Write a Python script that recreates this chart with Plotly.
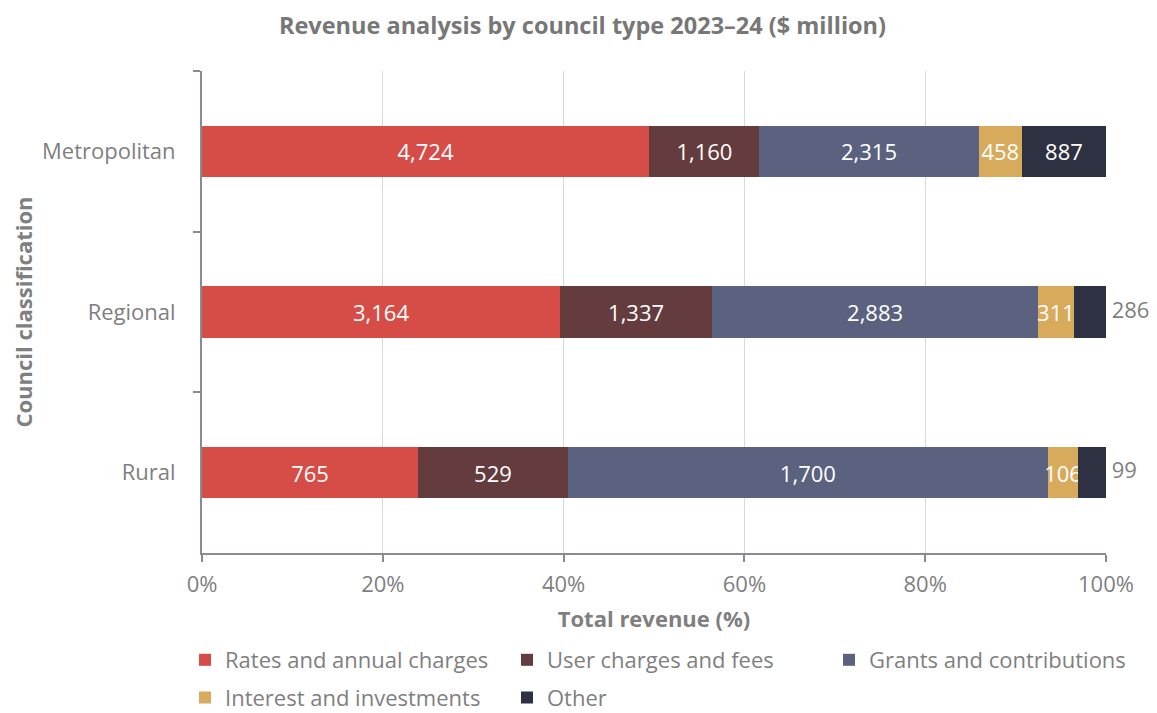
import plotly.graph_objects as go

councils = ["Metropolitan", "Regional", "Rural"]
series_names = ["Rates and annual charges", "User charges and fees", "Grants and contributions",
                "Interest and investments", "Other"]
rates = [4724, 3164, 765]
user_charges = [1160, 1337, 529]
grants = [2315, 2883, 1700]
interest = [458, 311, 106]
other = [887, 286, 99]
colors = ["#d64c47", "#643c3e", "#5b6280", "#d8aa5c", "#2d3142"]
x_ticks = [0, 20, 40, 60, 80, 100]
x_tick_labels = ["0%", "20%", "40%", "60%", "80%", "100%"]

FONT = "Open Sans"
GRAY = "#7f7f7f"
AXIS = "#8a8a94"

all_series = [rates, user_charges, grants, interest, other]
totals = [sum(s[i] for s in all_series) for i in range(len(councils))]
other_share = [o / t * 100 for o, t in zip(other, totals)]
small_other = [sh < 5 for sh in other_share]

fig = go.Figure()
for idx, (name, vals, col) in enumerate(zip(series_names, all_series, colors)):
    if name == "Other":
        txt = ["" if small else f"{v:,}" for v, small in zip(vals, small_other)]
    else:
        txt = [f"{v:,}" for v in vals]
    fig.add_trace(go.Bar(
        y=councils, x=vals, name=name, orientation="h",
        marker=dict(color=col, line=dict(width=0)),
        text=txt, textposition="inside", textangle=0,
        insidetextanchor="middle", constraintext="none",
        insidetextfont=dict(color="white", size=22, family=FONT),
        legend="legend" if idx < 3 else "legend2",
        hovertemplate="%{y}: %{x:.1f}%<extra>" + name + "</extra>",
    ))

# outside labels for small "Other" segments, placed at the end of the 100% stack
out_y = [c for c, s in zip(councils, small_other) if s]
out_txt = [f" {o:,}" for o, s in zip(other, small_other) if s]
fig.add_trace(go.Scatter(
    y=out_y, x=[100] * len(out_y), mode="text", text=out_txt,
    textposition="middle right", textfont=dict(size=22, color=GRAY, family=FONT),
    showlegend=False, hoverinfo="skip", cliponaxis=False,
))

# page body has an 8px margin, so the figure is sized to fit the window
fig.update_layout(
    barmode="stack", barnorm="percent", bargap=0.68,
    width=1149, height=705,
    margin=dict(l=194, r=51, t=63, b=160, autoexpand=False),
    paper_bgcolor="white", plot_bgcolor="white",
    font=dict(family=FONT, color=GRAY, size=22),
    title=dict(text="<b>Revenue analysis by council type 2023–24 ($ million)</b>",
               x=0.5, xanchor="center", y=0.9745, yanchor="middle",
               font=dict(size=23.5, color="#777777", family=FONT)),
    legend=dict(orientation="h", x=-0.0188, xanchor="left", y=-0.222, yanchor="middle",
                entrywidth=277, entrywidthmode="pixels",
                font=dict(size=22, color=GRAY, family=FONT), traceorder="normal",
                itemwidth=30, bgcolor="rgba(0,0,0,0)"),
    legend2=dict(orientation="h", x=-0.0188, xanchor="left", y=-0.300, yanchor="middle",
                 entrywidth=277, entrywidthmode="pixels",
                 font=dict(size=22, color=GRAY, family=FONT), traceorder="normal",
                 itemwidth=30, bgcolor="rgba(0,0,0,0)"),
)
fig.update_xaxes(
    range=[0, 100], tickvals=x_ticks, ticktext=x_tick_labels,
    showgrid=True, gridcolor="#d9d9d9", gridwidth=1,
    showline=True, linecolor=AXIS, linewidth=2,
    ticks="outside", ticklen=7, tickcolor=AXIS, tickwidth=2,
    tickfont=dict(size=22, color=GRAY), zeroline=False, ticklabelstandoff=4,
    title=dict(text="<b>Total revenue (%)</b>", font=dict(size=22, color=GRAY), standoff=14),
    automargin=False,
)
fig.update_yaxes(
    autorange="reversed", showline=True, linecolor=AXIS, linewidth=2,
    ticks="outside", ticklen=7, tickcolor=AXIS, tickwidth=2, tickson="boundaries",
    tickfont=dict(size=22, color=GRAY), ticklabelstandoff=20, showgrid=False,
    title=dict(text="<b>Council classification</b>", font=dict(size=22, color=GRAY), standoff=9),
    automargin=False,
)
fig.write_html("out.html")
